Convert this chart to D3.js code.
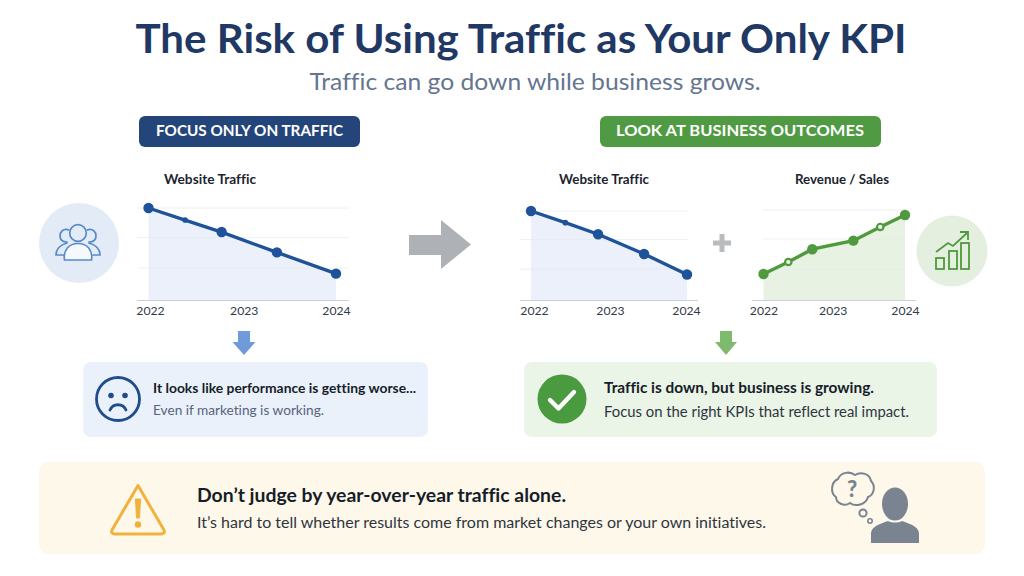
<!DOCTYPE html>
<html><head><meta charset="utf-8">
<script src="https://cdn.jsdelivr.net/npm/d3@7/dist/d3.min.js"></script>
<style>html,body{margin:0;padding:0;background:#fff}svg{display:block}text{font-family:Lato,"Noto Sans",sans-serif;font-variant-ligatures:none}</style>
</head><body><svg id="c" width="1024" height="576"></svg>
<script>
const tickYears = [2022, 2023, 2024];
const leftTrafficTimes = [2022, 2022.39, 2022.78, 2023.37, 2024];
const midTrafficTimes = [2022, 2022.44, 2022.86, 2023.45, 2024];
const trafficValues = [100, 87, 74, 52, 29];
const revenueTimes = [2022, 2022.35, 2022.69, 2023.27, 2023.65, 2024];
const revenueValues = [31, 45, 60, 70, 86, 100];
const trafficGrid = [100, 68, 35];
const revenueGrid = [106, 72, 37];

const BLUE = "#1f5399", GREEN = "#4e9a3c";
const svg = d3.select("#c");
svg.append("rect").attr("width", 1024).attr("height", 576).attr("fill", "#fff");

function txt(s, x, y, size, fill, weight, anchor, width) {
  const t = svg.append("text").attr("x", x).attr("y", y).attr("font-size", size)
    .attr("fill", fill).attr("font-weight", weight || 400).attr("text-anchor", anchor || "start").text(s);
  if (width) t.attr("textLength", width).attr("lengthAdjust", "spacingAndGlyphs");
  return t;
}
function rrect(x, y, w, h, r, fill) {
  svg.append("rect").attr("x", x).attr("y", y).attr("width", w).attr("height", h).attr("rx", r).attr("fill", fill);
}

// Header
txt("The Risk of Using Traffic as Your Only KPI", 521, 53, 41, "#1f3864", 700, "middle", 771);
txt("Traffic can go down while business grows.", 535, 90, 24, "#64758f", 400, "middle", 451);

// Pills
rrect(139, 116, 221, 31, 6, "#24457a");
txt("FOCUS ONLY ON TRAFFIC", 249.5, 136, 16, "#fff", 700, "middle", 187);
rrect(600, 116, 281, 31, 6, "#4f9a42");
txt("LOOK AT BUSINESS OUTCOMES", 740, 136, 16, "#fff", 700, "middle", 248);

// Charts
function chart(o) {
  const x = d3.scaleLinear().domain([2022, 2024]).range(o.xr);
  const y = d3.scaleLinear().domain([0, 100]).range([300.5, o.top]);
  const g = svg.append("g");
  const pts = o.times.map((t, i) => [t, o.values[i]]);
  g.append("path").attr("d", d3.area().x(d => x(d[0])).y0(y(0)).y1(d => y(d[1]))(pts)).attr("fill", o.area);
  g.selectAll("line.grid").data(o.grid).join("line").attr("class", "grid")
    .attr("x1", o.gx[0]).attr("x2", o.gx[1]).attr("y1", d => y(d)).attr("y2", d => y(d))
    .attr("stroke", "#e6e9ee").attr("stroke-opacity", .7).attr("stroke-width", 1);
  const ax = g.append("g").attr("transform", `translate(0,${y(0)})`)
    .call(d3.axisBottom(x).tickValues(tickYears).tickFormat(d3.format("d")).tickSize(0).tickPadding(6));
  ax.select(".domain").remove();
  ax.selectAll("text").attr("font-size", 12.2).attr("fill", "#333b47").attr("font-family", 'Lato,sans-serif');
  ax.selectAll("text").attr("dx", (d, i) => o.dx[i]);
  g.append("line").attr("x1", o.ax[0]).attr("x2", o.ax[1]).attr("y1", y(0)).attr("y2", y(0))
    .attr("stroke", "#c9d1dc").attr("stroke-width", 1.2);
  g.append("path").attr("d", d3.line().x(d => x(d[0])).y(d => y(d[1]))(pts))
    .attr("fill", "none").attr("stroke", o.color).attr("stroke-width", 3.4);
  g.selectAll("circle").data(pts).join("circle")
    .attr("cx", d => x(d[0])).attr("cy", d => y(d[1]))
    .attr("r", (d, i) => o.hollow.includes(i) ? 3.2 : o.minor.includes(i) ? 2.8 : 5.2)
    .attr("fill", (d, i) => o.hollow.includes(i) ? "#f4f8f1" : o.color)
    .attr("stroke", (d, i) => o.hollow.includes(i) ? o.color : "none")
    .attr("stroke-width", (d, i) => o.hollow.includes(i) ? 2.2 : 0);
  txt(o.title, o.tx, 184, 13.5, "#1c2430", 700, "middle", o.tw);
}
chart({title: "Website Traffic", tx: 210, tw: 92, times: leftTrafficTimes, values: trafficValues, grid: trafficGrid,
  xr: [148.5, 336], top: 208, gx: [137, 349], ax: [137, 349], color: BLUE, area: "#ebf0fb", minor: [1], hollow: [], dx: [1.5, 1.5, 0]});
chart({title: "Website Traffic", tx: 604, tw: 90, times: midTrafficTimes, values: trafficValues, grid: trafficGrid,
  xr: [531, 687], top: 211, gx: [520, 688], ax: [520, 698], color: BLUE, area: "#ebf0fb", minor: [1], hollow: [], dx: [3, 1, -1]});
chart({title: "Revenue / Sales", tx: 842, tw: 94, times: revenueTimes, values: revenueValues, grid: revenueGrid,
  xr: [763.5, 905], top: 215, gx: [763, 905], ax: [752, 916], color: GREEN, area: "#e8f2e3", minor: [], hollow: [1, 4], dx: [0, -1.5, 0]});

// Big arrow and plus
svg.append("path").attr("d", "M409 235H441V220L471 244.5L441 269V255H409Z").attr("fill", "#aeb1b5");
svg.append("path").attr("d", "M722 234V252M713 243H731").attr("stroke", "#b9bcbf").attr("stroke-width", 5).attr("fill", "none");

// Left users icon
svg.append("circle").attr("cx", 79).attr("cy", 243).attr("r", 40).attr("fill", "#e3ebf7");
const u = svg.append("g").attr("fill", "none").attr("stroke", "#5b8ac9").attr("stroke-width", 1.7).attr("stroke-linecap", "round");
u.append("path").attr("d", "M69 230C63 228 60 232 60 236C60 240 63 242 67 242M64 255H56C56 249 60 245 67 243");
u.append("path").attr("d", "M87 230C93 228 96 232 96 236C96 240 93 242 89 242M93 255H100C100 249 96 245 89 243");
u.append("circle").attr("cx", 78).attr("cy", 233).attr("r", 8.3).attr("fill", "#e3ebf7");
u.append("path").attr("d", "M64.5 260C63 250 69 243.5 78 243.5C87 243.5 93 250 91.5 260Z").attr("fill", "#f5f8fd");

// Right growth icon
svg.append("circle").attr("cx", 952).attr("cy", 251).attr("r", 35.5).attr("fill", "#e4efdf");
const gi = svg.append("g").attr("fill", "none").attr("stroke", "#4e9a3c").attr("stroke-width", 1.8);
gi.append("rect").attr("x", 936).attr("y", 258).attr("width", 8).attr("height", 11);
gi.append("rect").attr("x", 949).attr("y", 251).attr("width", 8).attr("height", 18);
gi.append("rect").attr("x", 961).attr("y", 243).attr("width", 8).attr("height", 26);
gi.append("path").attr("d", "M936 252L948 243L953 246L967 233M960 232H968V240");

// Down arrows
svg.append("path").attr("d", "M238 331H250V342H255.5L244 355L232.5 342H238Z").attr("fill", "#6f9bdb");
svg.append("path").attr("d", "M720 331H732V342H737L726 355L715 342H720Z").attr("fill", "#7ebb6e");

// Result cards
rrect(83, 362, 345, 75, 8, "#ebf1fb");
svg.append("circle").attr("cx", 118).attr("cy", 399).attr("r", 21.5).attr("fill", "none").attr("stroke", "#1f4d8c").attr("stroke-width", 2.8);
svg.append("circle").attr("cx", 111).attr("cy", 395.5).attr("r", 2.8).attr("fill", "#1f4d8c");
svg.append("circle").attr("cx", 125).attr("cy", 395.5).attr("r", 2.8).attr("fill", "#1f4d8c");
svg.append("path").attr("d", "M110 410C113 403 123 403 126 410").attr("fill", "none").attr("stroke", "#1f4d8c").attr("stroke-width", 2.8).attr("stroke-linecap", "round");
txt("It looks like performance is getting worse...", 153, 393, 14, "#161d29", 700, "start", 263);
txt("Even if marketing is working.", 153, 415, 14, "#56647c", 400, "start", 171);

rrect(524, 362, 413, 75, 8, "#eaf4e7");
svg.append("circle").attr("cx", 562).attr("cy", 399).attr("r", 24.5).attr("fill", "#4a9a3f");
svg.append("path").attr("d", "M550 400L558.5 408.5L574 392").attr("fill", "none").attr("stroke", "#fff").attr("stroke-width", 4.4).attr("stroke-linecap", "round").attr("stroke-linejoin", "round");
txt("Traffic is down, but business is growing.", 604, 393, 15.5, "#161d29", 700, "start", 270);
txt("Focus on the right KPIs that reflect real impact.", 604, 417, 15.5, "#2e3540", 400, "start", 305);

// Bottom banner
rrect(39, 462, 946, 92, 10, "#fef8eb");
svg.append("path").attr("d", "M138 485.5L164 530C165 532.5 164 534 161 534H115C112 534 111 532.5 112 530Z")
  .attr("fill", "none").attr("stroke", "#f0b23c").attr("stroke-width", 3).attr("stroke-linejoin", "round");
svg.append("path").attr("d", "M135.5 499H140.5L139.5 518H136.5Z").attr("fill", "#f0b23c").attr("stroke", "#f0b23c").attr("stroke-width", 1).attr("stroke-linejoin", "round");
svg.append("circle").attr("cx", 138).attr("cy", 524.5).attr("r", 3.2).attr("fill", "#f0b23c");
txt("Don’t judge by year-over-year traffic alone.", 197, 502, 19, "#161d29", 700, "start", 369);
txt("It’s hard to tell whether results come from market changes or your own initiatives.", 197, 528, 15.5, "#2e3540", 400, "start", 569);

// Person with thought bubble
const P = "#7a8490";
svg.append("ellipse").attr("cx", 895).attr("cy", 504).attr("rx", 13).attr("ry", 16.5).attr("fill", P);
svg.append("path").attr("d", "M871 543V533C872 526 880 524 888 521C892 523 898 523 902 521C910 524 918 526 919 533V543Z").attr("fill", P);
svg.append("path").attr("d", "M838 479C841 472 850 471 855 475C861 471 870 474 871 481C876 486 874 495 868 497C866 505 855 507 850 503C844 507 836 503 836 497C830 493 831 482 838 479Z")
  .attr("fill", "#fef8eb").attr("stroke", P).attr("stroke-width", 2);
txt("?", 852, 497, 22, P, 900, "middle");
svg.append("circle").attr("cx", 863).attr("cy", 513).attr("r", 3.6).attr("fill", "none").attr("stroke", P).attr("stroke-width", 2);
svg.append("circle").attr("cx", 870).attr("cy", 521).attr("r", 2.2).attr("fill", "none").attr("stroke", P).attr("stroke-width", 1.6);
</script></body></html>
